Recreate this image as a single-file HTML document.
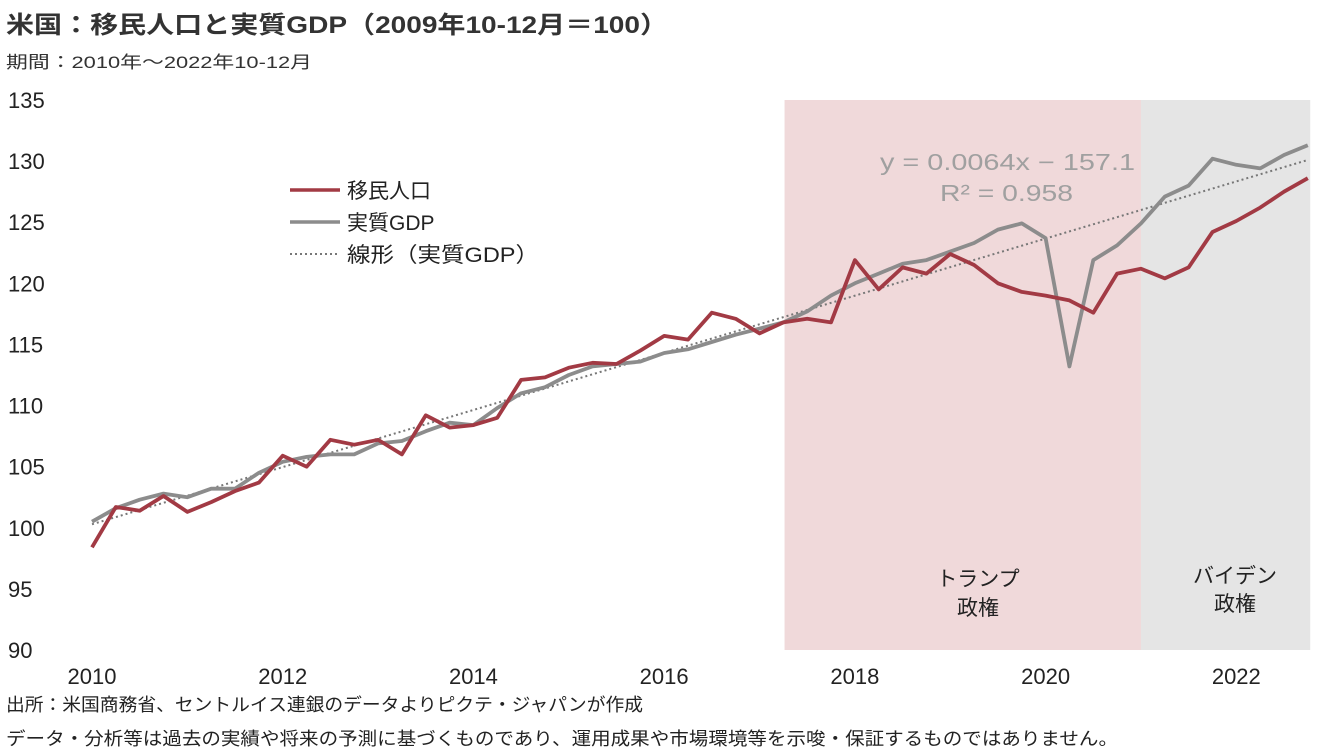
<!DOCTYPE html>
<html><head><meta charset="utf-8"><style>
body{margin:0;background:#fff;width:1317px;height:752px;overflow:hidden;font-family:"Liberation Sans","Noto Sans CJK JP",sans-serif;}
svg{display:block}
</style></head><body>
<svg id="c" width="1317" height="752" xmlns="http://www.w3.org/2000/svg" font-family="Liberation Sans, Noto Sans CJK JP, sans-serif">
<text x="6" y="33" font-size="24" fill="#333" font-weight="bold" textLength="662" lengthAdjust="spacingAndGlyphs">米国：移民人口と実質GDP（2009年10-12月＝100）</text>
<text x="6" y="68" font-size="17" fill="#333" textLength="306" lengthAdjust="spacingAndGlyphs">期間：2010年～2022年10-12月</text>
<g id="bands"></g>
<g id="yaxis"></g>
<g id="xaxis"></g>
<g id="series"></g>
<g>
<line x1="290" y1="190" x2="340" y2="190" stroke="#a23a44" stroke-width="3.5"/>
<text x="347" y="198" font-size="21" fill="#222">移民人口</text>
<line x1="290" y1="222" x2="340" y2="222" stroke="#8c8c8c" stroke-width="3.5"/>
<text x="347" y="230" font-size="21" fill="#222">実質GDP</text>
<line x1="290" y1="254" x2="340" y2="254" stroke="#777" stroke-width="2" stroke-dasharray="2 3"/>
<text x="347" y="262" font-size="21" fill="#222" textLength="192" lengthAdjust="spacingAndGlyphs">線形（実質GDP）</text>
</g>
<text x="880" y="170" font-size="23" fill="#a0a0a0" textLength="255" lengthAdjust="spacingAndGlyphs">y = 0.0064x − 157.1</text>
<text x="940" y="201" font-size="23" fill="#a0a0a0" textLength="133" lengthAdjust="spacingAndGlyphs">R² = 0.958</text>
<text x="978" y="586" font-size="21" fill="#222" text-anchor="middle">トランプ</text>
<text x="978" y="615" font-size="21" fill="#222" text-anchor="middle">政権</text>
<text x="1235" y="583" font-size="21" fill="#222" text-anchor="middle">バイデン</text>
<text x="1235" y="611" font-size="21" fill="#222" text-anchor="middle">政権</text>
<text x="6" y="711" font-size="18" fill="#222" textLength="637" lengthAdjust="spacingAndGlyphs">出所：米国商務省、セントルイス連銀のデータよりピクテ・ジャパンが作成</text>
<text x="6" y="745" font-size="18" fill="#222" textLength="1112" lengthAdjust="spacingAndGlyphs">データ・分析等は過去の実績や将来の予測に基づくものであり、運用成果や市場環境等を示唆・保証するものではありません。</text>
</svg>
<script>
const immigrants=[98.4,101.7,101.4,102.6,101.3,102.1,103.0,103.7,105.9,105.0,107.2,106.8,107.2,106.0,109.2,108.2,108.4,109.0,112.1,112.3,113.1,113.5,113.4,114.5,115.7,115.4,117.6,117.1,115.9,116.8,117.1,116.8,121.9,119.5,121.3,120.8,122.4,121.5,120.0,119.3,119.0,118.6,117.6,120.8,121.2,120.4,121.3,124.2,125.1,126.2,127.5,128.6];
const gdp=[100.5,101.6,102.3,102.8,102.5,103.2,103.2,104.5,105.4,105.8,106.0,106.0,106.9,107.1,107.9,108.6,108.4,109.8,111.0,111.5,112.5,113.2,113.4,113.6,114.3,114.6,115.2,115.8,116.3,116.8,117.7,119.0,120.0,120.8,121.6,121.9,122.6,123.3,124.4,124.9,123.7,113.2,121.9,123.1,124.9,127.1,128.0,130.2,129.7,129.4,130.5,131.3];
const yTicks=[90,95,100,105,110,115,120,125,130,135];
const yearLabels=["2010","2012","2014","2016","2018","2020","2022"];
const trumpBand=[29.05,44];
const bidenBand=[44,51.1];
const NS="http://www.w3.org/2000/svg";
const X0=92,DX=23.84,Y0=650,YMIN=90,YMAX=135,PH=550;
const xs=i=>X0+i*DX;
const ys=v=>Y0-(v-YMIN)/(YMAX-YMIN)*PH;
function mk(tag,attrs,parent){const e=document.createElementNS(NS,tag);for(const k in attrs)e.setAttribute(k,attrs[k]);parent.appendChild(e);return e;}
const bands=document.getElementById('bands');
let r=mk('rect',{x:xs(trumpBand[0]),y:ys(YMAX),width:xs(trumpBand[1])-xs(trumpBand[0]),height:PH,fill:'#f0d9da'},bands);


r=mk('rect',{x:xs(bidenBand[0]),y:ys(YMAX),width:xs(bidenBand[1])-xs(bidenBand[0]),height:PH,fill:'#e5e5e5'},bands);


const ya=document.getElementById('yaxis');
yTicks.forEach(v=>{const t=mk('text',{x:8,y:ys(v)+8,'font-size':22,fill:'#222'},ya);t.textContent=v;

});
const xa=document.getElementById('xaxis');
yearLabels.forEach((l,k)=>{const t=mk('text',{x:xs(k*8),y:684,'font-size':22,fill:'#222','text-anchor':'middle'},xa);t.textContent=l;

});
const se=document.getElementById('series');
const n=gdp.length;let sx=0,sy=0,sxx=0,sxy=0;gdp.forEach((v,i)=>{sx+=i;sy+=v;sxx+=i*i;sxy+=i*v;});
const b=(n*sxy-sx*sy)/(n*sxx-sx*sx),a=(sy-b*sx)/n;
let tl=mk('line',{x1:xs(0),y1:ys(a),x2:xs(n-1),y2:ys(a+b*(n-1)),stroke:'#777','stroke-width':2,'stroke-dasharray':'2 3'},se);


const pts=arr=>arr.map((v,i)=>xs(i).toFixed(1)+','+ys(v).toFixed(1)).join(' ');
let pg=mk('polyline',{points:pts(gdp),fill:'none',stroke:'#8c8c8c','stroke-width':3.8,'stroke-linejoin':'round'},se);


let pr=mk('polyline',{points:pts(immigrants),fill:'none',stroke:'#a23a44','stroke-width':3.8,'stroke-linejoin':'round'},se);


</script>
</body></html>
